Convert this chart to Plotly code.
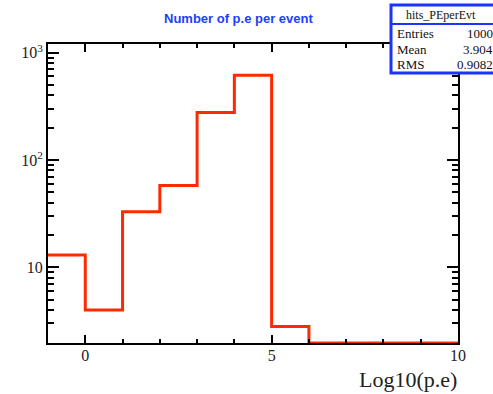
import plotly.graph_objects as go
import math

# ---- data ----
bin_edges = [-1, 0, 1, 2, 3, 4, 5, 6, 7, 8, 9, 10]
counts = [13, 4, 33, 58, 277, 615, 2.8, 0, 0, 0, 0]
x_ticks = [0, 5, 10]
y_tickvals = [10, 100, 1000]
y_ticktext = ["10", "10<sup>2</sup>", "10<sup>3</sup>"]
stats_title = "hits_PEperEvt"
stats_labels = ["Entries", "Mean", "RMS"]
stats_values = ["1000", "3.904", "0.9082"]

y_min, y_max = 1.97, 1205.0
y_range = [math.log10(y_min), math.log10(y_max)]

# zero bins drawn at the bottom of the frame (as ROOT does on a log scale)
draw_y = [c if c > 0 else y_min for c in counts]
xs = bin_edges[:-1] + [bin_edges[-1]]
ys = draw_y + [draw_y[-1]]

W, H = 493, 394
ml, mr, mt, mb = 48, 35, 44, 51
pw, ph = W - ml - mr, H - mt - mb


def px(xpix):
    return (xpix - ml) / pw


def py(ypix):
    return (H - mb - ypix) / ph


fig = go.Figure()
fig.add_trace(go.Scatter(
    x=xs, y=ys, mode="lines", line=dict(shape="hv", color="#ff2a00", width=3),
    showlegend=False, hoverinfo="skip", cliponaxis=True))

minor_y = [m * 10 ** k for k in range(0, 3) for m in range(2, 10)]

fig.update_layout(
    width=W, height=H, margin=dict(l=ml, r=mr, t=mt, b=mb),
    paper_bgcolor="white", plot_bgcolor="white",
    font=dict(family="Liberation Serif", color="black"),
    xaxis=dict(
        range=[bin_edges[0], bin_edges[-1]], tickmode="array", tickvals=x_ticks,
        ticks="inside", ticklen=8, tickwidth=2, tickcolor="black",
        minor=dict(dtick=1, tick0=0, ticks="inside", ticklen=4, tickwidth=2, tickcolor="black"),
        showline=True, linecolor="black", linewidth=2, mirror="ticks",
        showgrid=False, zeroline=False, ticklabelstandoff=-3,
        tickfont=dict(family="Liberation Serif", size=16, color="#222"),
    ),
    yaxis=dict(
        type="log", range=y_range, tickmode="array", tickvals=y_tickvals, ticktext=y_ticktext,
        ticks="inside", ticklen=11, tickwidth=2, tickcolor="black",
        minor=dict(tickmode="array", tickvals=minor_y, ticks="inside", ticklen=6, tickwidth=2,
                   tickcolor="black"),
        showline=True, linecolor="black", linewidth=2, mirror="ticks",
        showgrid=False, zeroline=False,
        tickfont=dict(family="Liberation Serif", size=16, color="#222"),
    ),
)

# title
fig.add_annotation(text="<b>Number of p.e per event</b>", xref="paper", yref="paper",
                   x=px(238), y=py(18), showarrow=False, xanchor="center", yanchor="middle",
                   font=dict(family="Liberation Sans", size=13, color="#2040ff"))
# x axis title
fig.add_annotation(text="Log10(p.e)", xref="paper", yref="paper",
                   x=px(459), y=py(379), showarrow=False, xanchor="right", yanchor="middle",
                   font=dict(family="Liberation Serif", size=22, color="#222"))

# stats box
fig.add_shape(type="rect", xref="paper", yref="paper", x0=px(391), x1=px(520),
              y0=py(73), y1=py(5), line=dict(color="#1a33ff", width=3), fillcolor="white",
              layer="above")
fig.add_shape(type="line", xref="paper", yref="paper", x0=px(391), x1=px(520),
              y0=py(24), y1=py(24), line=dict(color="#1a33ff", width=2), layer="above")
fig.add_annotation(text=stats_title, xref="paper", yref="paper", x=px(441), y=py(15),
                   showarrow=False, xanchor="center", yanchor="middle",
                   font=dict(family="Liberation Serif", size=12, color="#111"))
for i, (lab, val) in enumerate(zip(stats_labels, stats_values)):
    yy = py(33 + 16 * i)
    fig.add_annotation(text=lab, xref="paper", yref="paper", x=px(395), y=yy,
                       showarrow=False, xanchor="left", yanchor="middle",
                       font=dict(family="Liberation Serif", size=13, color="#111"))
    fig.add_annotation(text=val, xref="paper", yref="paper", x=px(495), y=yy,
                       showarrow=False, xanchor="right", yanchor="middle",
                       font=dict(family="Liberation Serif", size=13, color="#111"))

fig.write_html("out.html")
